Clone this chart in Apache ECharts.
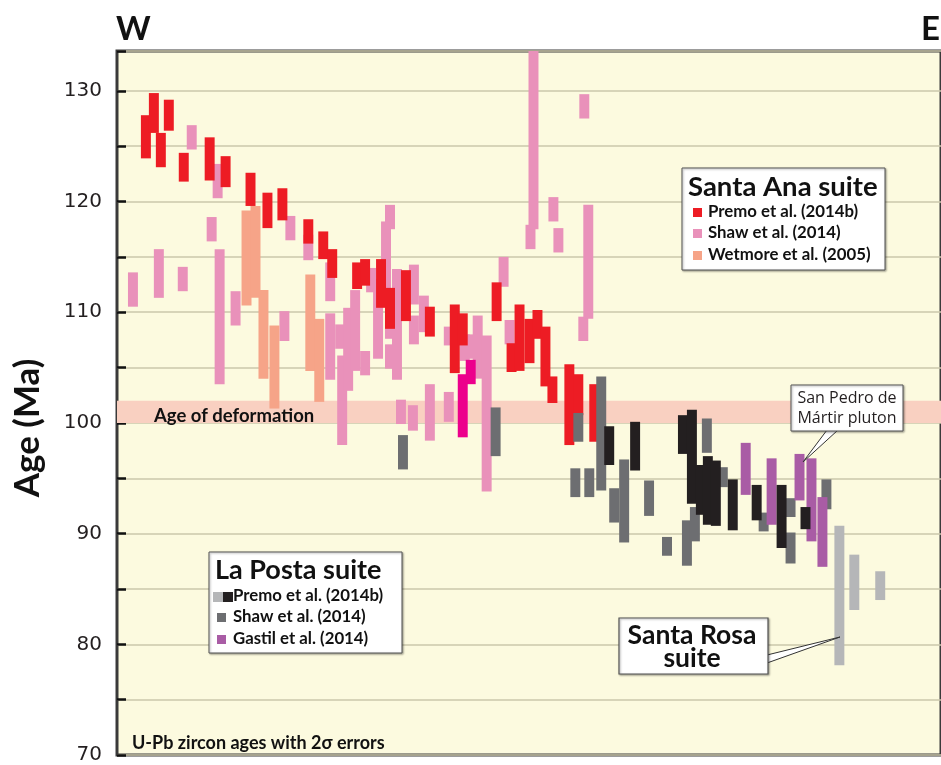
<!DOCTYPE html>
<html><head><meta charset="utf-8">
<script src="https://cdn.jsdelivr.net/npm/echarts@6/dist/echarts.min.js"></script>
<style>html,body{margin:0;padding:0;background:#fff}#c{width:941px;height:765px}</style>
</head><body><div id="c"></div>
<script>
// ---- data: [position W→E, age low (Ma), age high (Ma)] ----
const yLabelTicks = [70, 80, 90, 100, 110, 120, 130];
const deformationBand = [[100, 102]];

const santaAnaPremo = [
  [29,123.9,127.8],[37,126.2,129.8],[44,123.1,126.2],[52,126.4,129.2],[67,121.8,124.4],
  [93,121.9,125.8],[109,121.3,124.1],[134,119.6,122.6],[151,117.6,120.8],[166,118.3,121.2],
  [192,116.2,118.4],[207,114.8,117.3],[216,113.1,115.7],[241,112.1,114.5],[249,112.4,114.8],
  [265,110.4,114.8],[274,108.5,112.2],[290,109.2,113.8],[314,107.8,110.5],[339,104.5,110.7],
  [347,107.0,109.9],[381,109.2,112.7],[396,104.6,107.2],[404,104.7,110.7],[414,105.4,109.4],
  [422,107.6,110.2],[430,103.3,108.7],[437,101.8,104.2],[454,98.0,105.3],[463,100.7,104.4],
  [479,98.3,103.5]
];
const santaAnaShaw = [
  [16,110.5,113.6],[42,111.3,115.7],[66,111.9,114.1],[75,124.7,126.9],[95,116.4,118.6],
  [101,120.3,123.4],[103,103.5,115.7],[119,108.8,111.9],[168,107.4,110.1],[174,116.5,118.7],
  [192,114.7,117.0],[214,111.0,114.5],[214,103.9,109.9],[224,106.7,108.9],[226,98.0,106.1],
  [232,102.9,110.4],[239,104.7,112.0],[249,104.3,106.5],[255,111.8,114.0],[262,105.8,113.0],
  [270,111.7,118.2],[274,117.5,119.7],[274,107.6,110.0],[274,104.9,107.1],[281,103.9,113.9],
  [285,99.9,102.1],[297,99.3,101.6],[298,110.7,114.3],[298,107.1,109.7],[308,108.2,111.5],
  [314,98.4,103.5],[333,107.0,108.7],[333,100.1,102.8],[349,105.6,108.0],[357,105.8,108.0],
  [362,104.0,109.7],[371,93.8,107.9],[388,112.3,115.0],[394,107.1,109.3],[415,115.7,117.9],
  [418,117.5,134.5],[438,118.2,120.4],[443,115.4,117.6],[468,107.4,109.6],[469,127.5,129.7],
  [473,109.4,119.7]
];
const santaAnaWetmore = [
  [130,110.6,119.2],[139,111.3,119.6],[147,104.0,112.0],[158,101.3,108.8],[194,104.7,113.4],
  [203,101.9,109.4]
];
const santaAnaHighlight = [[347,98.7,104.4],[355,103.5,105.7]];
const laPostaShaw = [
  [287,95.8,98.9],[380,97.0,101.4],[460,93.3,95.9],[463,98.3,100.9],[474,93.3,95.9],
  [486,93.9,104.2],[499,91.0,94.1],[509,89.2,96.7],[534,91.6,94.8],[552,88.0,89.7],
  [572,87.1,91.2],[580,89.3,92.4],[592,97.3,100.4],[608,94.2,96.0],[649,90.2,91.9],
  [676,91.5,93.2],[676,87.3,90.1],[712,92.2,94.9]
];
const laPostaGastil = [
  [631,93.5,98.2],[657,90.8,96.8],[685,93.0,97.2],[697,89.3,96.8],[708,87.0,93.3]
];
const laPostaPremo = [
  [494,96.2,99.7],[520,95.7,100.1],[568,97.2,100.7],[577,92.7,101.2],[586,91.7,96.2],
  [593,90.8,97.0],[601,90.7,96.6],[618,90.3,94.9],[642,91.2,94.4],[667,88.7,94.4],
  [691,90.4,92.4]
];
const santaRosaPremo = [[725,78.1,90.7],[740,83.1,88.1],[766,84.0,86.6]];

// ---- colours ----
const C = {
  red:'#ed1c24', pink:'#e991ba', salmon:'#f6a488', magenta:'#ec008c',
  grey:'#6d6e71', black:'#231f20', purple:'#a95ca5', light:'#b5b6b8',
  band:'#f9d0c1', plot:'#fcfadf'
};
const BAR_W = 10;
const Y_MIN = 70, Y_MAX = 133.6;

function barRender(params, api) {
  const x = api.value(0), lo = api.value(1), hi = Math.min(api.value(2), Y_MAX);
  const p1 = api.coord([x, hi]);
  const p2 = api.coord([x, lo]);
  const w = api.size([BAR_W, 0])[0];
  return {
    type: 'rect',
    shape: { x: p1[0] - w / 2, y: p1[1], width: w, height: p2[1] - p1[1] },
    style: { fill: api.visual('color') }
  };
}
function bandRender(params, api) {
  const lo = api.value(0), hi = api.value(1);
  const t = api.coord([0, hi]), b = api.coord([0, lo]);
  return {
    type: 'rect',
    shape: { x: params.coordSys.x, y: t[1], width: params.coordSys.width, height: b[1] - t[1] },
    style: { fill: C.band }
  };
}
function barSeries(name, data, color) {
  return { type: 'custom', name, data, renderItem: barRender, itemStyle: { color },
           encode: { x: 0, y: [1, 2] }, clip: true, silent: true };
}

const BOLD = 'Lato, "Open Sans", sans-serif';
function txt(text, x, y, size, opts) {
  opts = opts || {};
  return { type: 'text', silent: true, z: 100, x, y, rotation: opts.rotation || 0,
    style: { text, fill: opts.fill || '#111', fontSize: size, fontWeight: opts.weight || 'bold',
      fontFamily: opts.family || BOLD, textAlign: opts.align || 'left', textVerticalAlign: 'middle' } };
}
function box(x, y, w, h, lw) {
  return { type: 'rect', silent: true, z: 90, shape: { x, y, width: w, height: h },
    style: { fill: '#fff', stroke: '#555', lineWidth: lw || 1, shadowBlur: 2, shadowColor: 'rgba(0,0,0,0.35)', shadowOffsetX: 1, shadowOffsetY: 1 } };
}
function sq(x, y, s, color) {
  return { type: 'rect', silent: true, z: 100, shape: { x, y, width: s, height: s }, style: { fill: color } };
}
function tail(points) {
  return { type: 'polygon', silent: true, z: 89, shape: { points }, style: { fill: '#fff', stroke: '#333', lineWidth: 1 } };
}

const chart = echarts.init(document.getElementById('c'));
chart.setOption({
  animation: false,
  grid: { left: 117, top: 51, right: -3, bottom: 5, show: true, backgroundColor: C.plot,
          borderColor: '#3a3a3a', borderWidth: 3, z: 0 },
  xAxis: { type: 'value', min: 0, max: 827, show: false },
  yAxis: {
    type: 'value', min: Y_MIN, max: Y_MAX, interval: 5,
    axisLine: { show: false },
    axisTick: { show: true, inside: true, length: 9, lineStyle: { color: '#111', width: 2.5 } },
    axisLabel: { formatter: v => yLabelTicks.includes(v) ? String(v) : '', fontSize: 20,
                 color: '#231f20', margin: 15, fontFamily: '"DejaVu Sans", sans-serif' },
    splitLine: { show: true, lineStyle: { color: '#cbc7ab', width: 1.5 } }
  },
  series: [
    { type: 'custom', name: 'Age of deformation', data: deformationBand, renderItem: bandRender,
      encode: { y: [0, 1] }, silent: true, z: 1 },
    barSeries('Shaw et al. (2014) SA', santaAnaShaw, C.pink),
    barSeries('Wetmore et al. (2005)', santaAnaWetmore, C.salmon),
    barSeries('Premo et al. (2014b) SA', santaAnaPremo, C.red),
    barSeries('Premo highlight', santaAnaHighlight, C.magenta),
    barSeries('Shaw et al. (2014) LP', laPostaShaw, C.grey),
    barSeries('Gastil et al. (2014)', laPostaGastil, C.purple),
    barSeries('Premo et al. (2014b) LP', laPostaPremo, C.black),
    barSeries('Premo et al. (2014b) SR', santaRosaPremo, C.light)
  ],
  graphic: [
    txt('W', 116, 29, 33),
    txt('E', 921, 29, 33),
    txt('Age (Ma)', 28, 428, 35, { rotation: Math.PI / 2, align: 'center' }),
    txt('Age of deformation', 154, 416, 18.5),
    txt('U-Pb zircon ages with 2σ errors', 132, 743, 18),
    // Santa Ana legend
    box(682, 168, 203, 102),
    txt('Santa Ana suite', 688, 187, 27.5),
    sq(693, 208, 9, C.red), txt('Premo et al. (2014b)', 708, 212, 16.8),
    sq(693, 229, 9, C.pink), txt('Shaw et al. (2014)', 708, 233, 16.8),
    sq(693, 251, 9, C.salmon), txt('Wetmore et al. (2005)', 708, 255, 16.8),
    // La Posta legend
    box(209, 552, 193, 101),
    txt('La Posta suite', 215, 570, 27),
    sq(213, 592, 10, C.light), sq(223, 592, 10, C.black), txt('Premo et al. (2014b)', 233, 596, 16.8),
    sq(217, 613, 9, C.grey), txt('Shaw et al. (2014)', 233, 617, 16.8),
    sq(217, 635, 9, C.purple), txt('Gastil et al. (2014)', 233, 639, 16.8),
    // Santa Rosa callout
    tail([[767, 655], [840, 637], [767, 663]]),
    box(619, 618, 149, 56, 1.2),
    txt('Santa Rosa', 692, 635, 26.5, { align: 'center' }),
    txt('suite', 692, 658, 26.5, { align: 'center' }),
    // San Pedro de Mártir callout
    tail([[827, 430], [803, 462], [838, 430]]),
    box(791, 385, 112, 46),
    txt('San Pedro de', 847, 398, 16, { align: 'center', weight: 'normal', family: '"Open Sans", sans-serif', fill: '#231f20' }),
    txt('Mártir pluton', 847, 418, 16, { align: 'center', weight: 'normal', family: '"Open Sans", sans-serif', fill: '#231f20' })
  ]
});
</script></body></html>
